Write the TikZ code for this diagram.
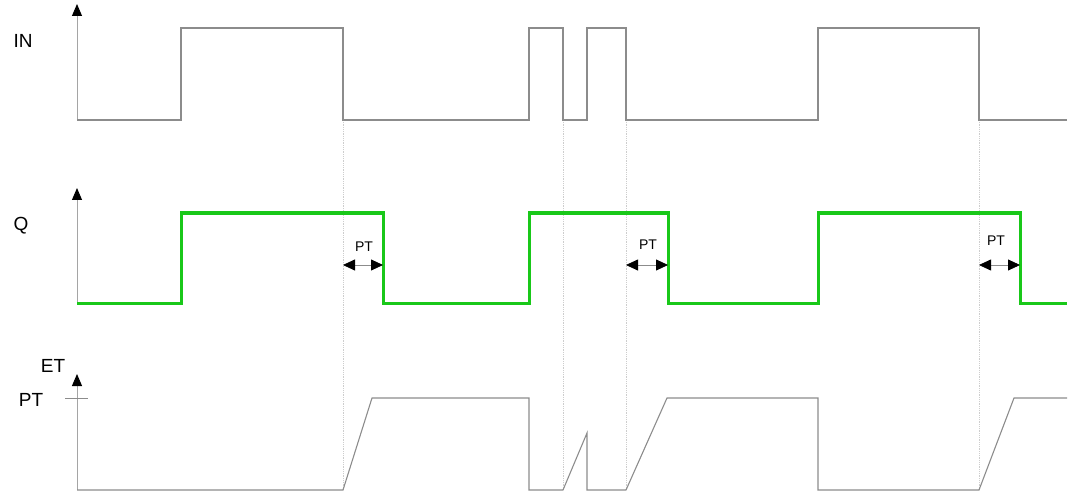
\documentclass[tikz,border=0pt]{standalone}
\usepackage{fontspec}
\setmainfont{Liberation Sans}
\usetikzlibrary{arrows.meta}
\definecolor{sigGray}{RGB}{140,140,140}
\definecolor{axisGray}{RGB}{165,165,165}
\definecolor{guideGray}{RGB}{205,205,205}
\definecolor{sigGreen}{RGB}{25,200,25}
\tikzset{
  axis/.style={
    draw=axisGray,
    line width=0.9pt,
    -{Triangle[length=12pt,width=10pt,color=black]}
  },
  signal/.style={draw=sigGray, line width=1.1pt, line join=miter},
  output/.style={draw=sigGreen, line width=3pt, line join=miter},
  guide/.style={draw=guideGray, line width=0.8pt, densely dotted},
  span/.style={
    draw=sigGray,
    line width=0.8pt,
    {Triangle[length=12pt,width=11pt,color=black]}-{Triangle[length=12pt,width=11pt,color=black]}
  },
  biglabel/.style={font=\fontsize{19}{21}\selectfont, inner sep=0pt},
  smalllabel/.style={font=\fontsize{14}{16}\selectfont, inner sep=0pt}
}

\begin{document}
\begin{tikzpicture}[x=1pt, y=-1pt]
  \useasboundingbox (0,0) rectangle (1077,492);
  % axes
  \draw[axis] (77,120) -- (77,4);
  \draw[axis] (77,303) -- (77,188);
  \draw[axis] (77,490) -- (77,374);
  \draw[draw=sigGray, line width=0.8pt] (65,398) -- (88,398);
  \node[biglabel] (lblIn) at (23,41) {IN};
  \node[biglabel] (lblQ) at (21,226) {Q};
  \node[biglabel] (lblEt) at (53,366) {ET};
  \node[biglabel] (lblPt) at (31,400) {PT};
  % guides
  \foreach \x in {343,563,626,979} {
    \draw[guide] (\x,120) -- (\x,490);
  }
  % input
  \draw[signal] (77,120) -- (181,120) -- (181,28) -- (343,28) -- (343,120)
    -- (529,120) -- (529,28) -- (563,28) -- (563,120) -- (587,120) -- (587,28)
    -- (626,28) -- (626,120) -- (818,120) -- (818,28) -- (979,28) -- (979,120)
    -- (1067,120);
  % output
  \draw[output] (77,303) -- (181,303) -- (181,213) -- (383,213) -- (383,303)
    -- (529,303) -- (529,213) -- (668,213) -- (668,303) -- (818,303)
    -- (818,213) -- (1020,213) -- (1020,303) -- (1067,303);
  % elapsed time
  \draw[signal] (77,490) -- (343,490) -- (372,398) -- (529,398) -- (529,490)
    -- (563,490) -- (587,433) -- (587,490) -- (626,490) -- (667,398)
    -- (818,398) -- (818,490) -- (979,490) -- (1014,398) -- (1067,398);
  % delays
  \foreach \a/\b/\n in {343/383/1,626/668/2,979/1020/3} {
    \coordinate (ptL\n) at (\a,265);
    \coordinate (ptR\n) at (\b,265);
    \draw[span] (ptL\n) -- (ptR\n);
  }
  \node[smalllabel] (ptA) at (364,247) {PT};
  \node[smalllabel] (ptB) at (648,245) {PT};
  \node[smalllabel] (ptC) at (996,241) {PT};
\end{tikzpicture}
\end{document}
